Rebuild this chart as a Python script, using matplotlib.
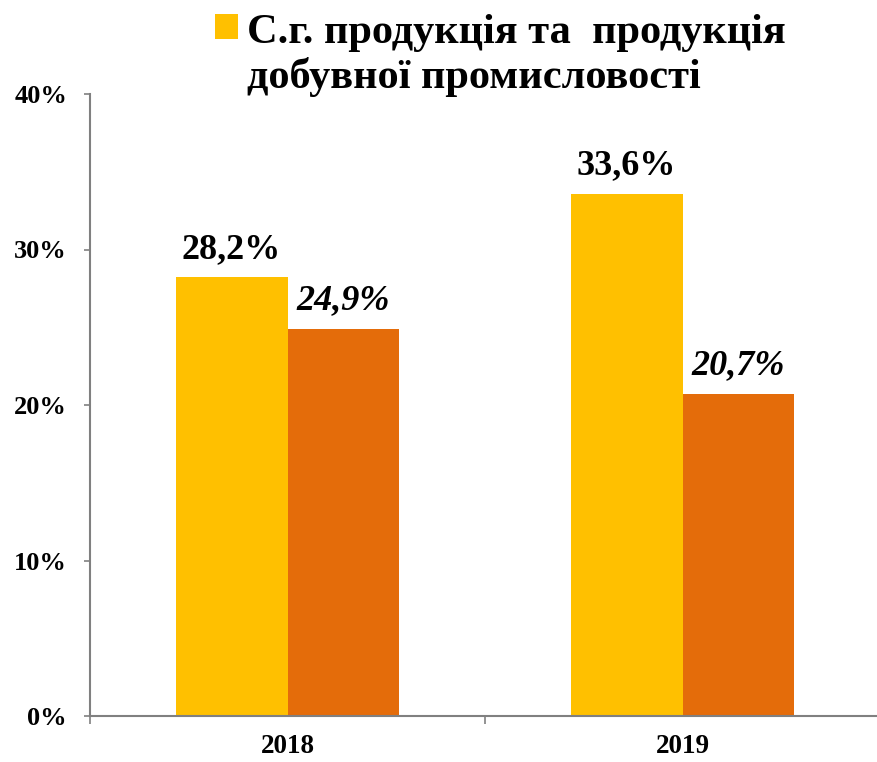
import numpy as np
import matplotlib
matplotlib.use("Agg")
import matplotlib.pyplot as plt
from matplotlib.ticker import PercentFormatter

# data
years = ["2018", "2019"]
agri_mining = [28.2, 33.6]     # yellow series
other = [24.9, 20.7]           # orange series
agri_labels = ["28,2%", "33,6%"]
other_labels = ["24,9%", "20,7%"]
legend_label = "С.г. продукція та  продукція\nдобувної промисловості"

yellow = "#FFC000"
orange = "#E46C0A"
grey = "#808080"

plt.rcParams["font.family"] = ["Liberation Serif", "DejaVu Serif"]
plt.rcParams["font.weight"] = "bold"

fig = plt.figure(figsize=(8.77, 7.62), dpi=100)
ax = fig.add_axes([90 / 877, 46 / 762, 790 / 877, 622 / 762])

x = np.arange(len(years))
w = 0.283
b1 = ax.bar(x - w / 2, agri_mining, w, color=yellow, label=legend_label)
b2 = ax.bar(x + w / 2, other, w, color=orange)

# value labels
for xi, v, lab in zip(x, agri_mining, agri_labels):
    ax.annotate(lab, (xi - w / 2, v), xytext=(0, 14), textcoords="offset points",
                ha="center", va="baseline", fontsize=26, fontweight="bold")
for xi, v, lab in zip(x, other, other_labels):
    ax.annotate(lab, (xi + w / 2, v), xytext=(0, 14.5), textcoords="offset points",
                ha="center", va="baseline", fontsize=26, fontweight="bold",
                style="italic")

ax.set_xlim(-0.5, 1.5)
ax.set_ylim(0, 40)
ax.set_yticks([0, 10, 20, 30, 40])
ax.yaxis.set_major_formatter(PercentFormatter(decimals=0))

ax.set_xticks(x)
ax.set_xticklabels(years)
ax.set_xticks([-0.5, 0.5, 1.5], minor=True)
ax.tick_params(axis="x", which="major", length=0, pad=13, labelsize=19.5)
ax.tick_params(axis="x", which="minor", length=6, width=1.2, color=grey, direction="out")
ax.tick_params(axis="y", length=4.5, width=1.2, color=grey, direction="out",
               pad=12, labelsize=19)
for lab in ax.get_xticklabels() + ax.get_yticklabels():
    lab.set_fontweight("bold")

for s in ["top", "right"]:
    ax.spines[s].set_visible(False)
for s in ["left", "bottom"]:
    ax.spines[s].set_color(grey)
    ax.spines[s].set_linewidth(1.5)

leg = fig.legend(handles=[b1], loc="upper left", bbox_to_anchor=(190 / 877, 1.015),
                 frameon=False, prop={"family": "Liberation Serif", "weight": "bold",
                                      "size": 30.5},
                 handlelength=0.54, handleheight=0.54, handletextpad=0.2,
                 borderaxespad=0.2, labelspacing=0)
for t in leg.get_texts():
    t.set_linespacing(1.15)
# put the square next to the first line
for col in leg._legend_handle_box.get_children():
    for item in col.get_children():
        item.align = "top"

fig.savefig("out.png", dpi=100)
